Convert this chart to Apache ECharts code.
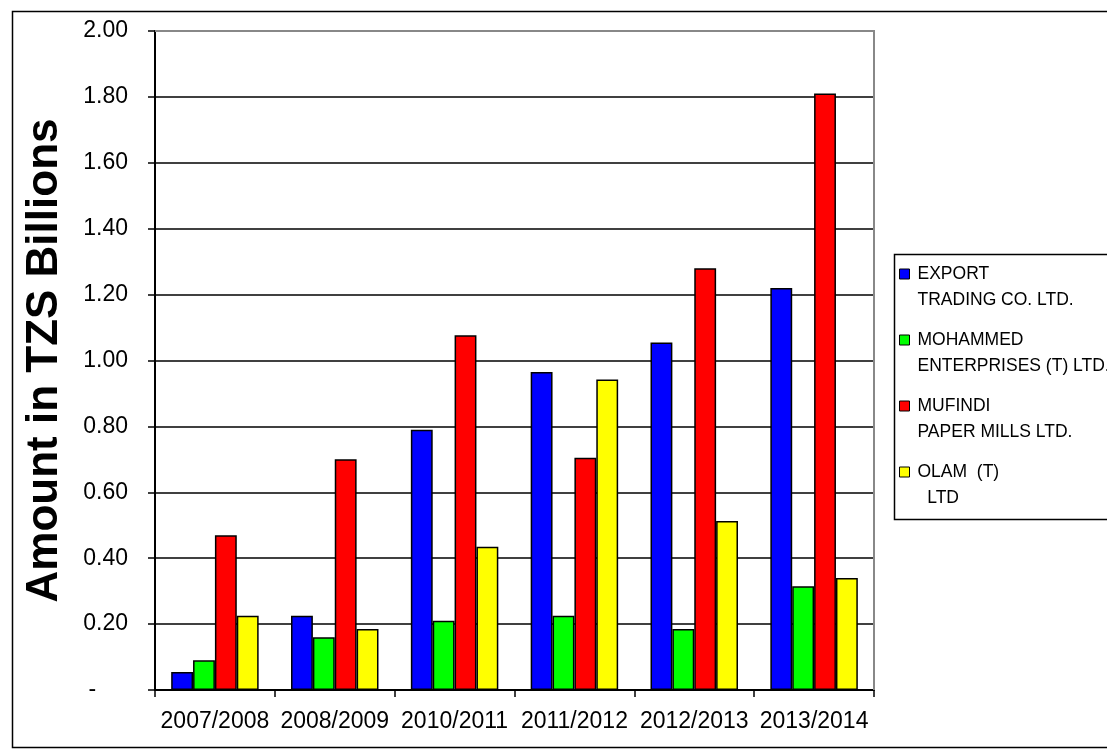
<!DOCTYPE html>
<html>
<head>
<meta charset="utf-8">
<script src="https://cdn.jsdelivr.net/npm/echarts@6/dist/echarts.min.js"></script>
<style>
  html, body { margin: 0; padding: 0; background: #fff; }
  #main { width: 1107px; height: 755px; }
</style>
</head>
<body>
<div id="main"></div>
<script>
// 数据
var years = ['2007/2008', '2008/2009', '2010/2011', '2011/2012', '2012/2013', '2013/2014'];
var exportTrading = [0.055, 0.225, 0.79, 0.965, 1.055, 1.22];
var mohammed = [0.09, 0.16, 0.21, 0.225, 0.185, 0.315];
var mufindi = [0.47, 0.70, 1.077, 0.705, 1.28, 1.81];
var olam = [0.225, 0.185, 0.435, 0.942, 0.513, 0.34];

var names = ['EXPORT\nTRADING CO. LTD.', 'MOHAMMED\nENTERPRISES (T) LTD.', 'MUFINDI\nPAPER MILLS LTD.', 'OLAM  (T)\n  LTD'];
var colors = ['#0000ff', '#00ff00', '#ff0000', '#ffff00'];
var values = [exportTrading, mohammed, mufindi, olam];

var myChart = echarts.init(document.getElementById('main'));

var series = [];
for (let i = 0; i < names.length; i++) {
  series.push({
    name: names[i],
    type: 'bar',
    data: values[i],
    barGap: '0%',
    barCategoryGap: '27%',
    itemStyle: { color: colors[i], borderColor: '#000', borderWidth: 1.5 },
    emphasis: { disabled: true }
  });
}

var option = {
  animation: false,
  color: colors,
  grid: { left: 155, top: 31, right: 233, bottom: 65, show: false },
  legend: {
    orient: 'vertical',
    left: 899,
    top: 235,
    padding: 0,
    icon: 'rect',
    itemWidth: 10,
    itemHeight: 10,
    itemGap: -12,
    data: names,
    // 空行让图标对齐第一行
    formatter: function (n) { return '\n' + n; },
    itemStyle: { borderColor: '#000', borderWidth: 1 },
    textStyle: { fontFamily: 'Liberation Sans, Arial', fontSize: 17.5, color: '#000', lineHeight: 26, padding: [0, 0, 0, 3] }
  },
  xAxis: {
    type: 'category',
    data: years,
    axisLine: { lineStyle: { color: '#000', width: 2 } },
    axisTick: { show: true, inside: false, length: 7, lineStyle: { color: '#000', width: 1.5 } },
    axisLabel: { interval: 0, fontFamily: 'Liberation Sans, Arial', fontSize: 23, color: '#000', margin: 20 }
  },
  yAxis: {
    type: 'value',
    min: 0,
    max: 2,
    interval: 0.2,
    name: 'Amount in TZS Billions',
    nameLocation: 'middle',
    nameGap: 88,
    nameTextStyle: { fontFamily: 'Liberation Sans, Arial', fontSize: 44, fontWeight: 'bold', color: '#000' },
    axisLine: { show: true, lineStyle: { color: '#000', width: 2 } },
    axisTick: { show: true, inside: false, length: 7, lineStyle: { color: '#000', width: 1.5 } },
    splitLine: { show: true, lineStyle: { color: '#000', width: 1.5 } },
    axisLabel: {
      fontFamily: 'Liberation Sans, Arial', fontSize: 23, color: '#000', margin: 27,
      formatter: function (v) { return v === 0 ? '-     ' : v.toFixed(2); }
    }
  },
  graphic: [
    { type: 'rect', left: 10, top: 9, shape: { width: 1120, height: 736 }, style: { fill: 'none', stroke: '#000', lineWidth: 1.5 }, z: -1 },
    { type: 'polyline', shape: { points: [[155, 31], [874, 31], [874, 690]] }, style: { fill: 'none', stroke: '#888', lineWidth: 2 }, z: 1 },
    { type: 'rect', left: 892, top: 252, shape: { width: 240, height: 265 }, style: { fill: 'none', stroke: '#000', lineWidth: 1.5 } }
  ],
  series: series
};

myChart.setOption(option);
</script>
</body>
</html>
